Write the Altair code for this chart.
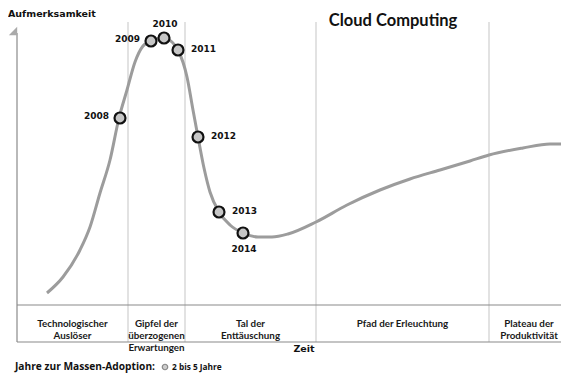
import altair as alt
import pandas as pd

# Hype curve (time -> attention, in picture units)
curve_x = [47, 63, 80, 90, 100, 110, 119, 127, 135, 143, 151, 163, 172, 178, 187, 193, 198,
           204, 210, 219, 230, 243, 258, 272, 288, 316, 347, 380, 410, 440, 470, 489, 523, 550, 575]
curve_y = [293, 277, 250, 227, 193, 160, 118, 90, 62, 46, 41, 38, 42, 50, 77, 110, 137,
           168, 192, 212, 225, 233, 237, 237, 234, 222, 205, 190, 179, 170, 161, 155, 148, 144, 144]

years = ["2008", "2009", "2010", "2011", "2012", "2013", "2014"]
year_x = [120, 151, 164, 178, 198, 219, 243]
year_y = [118, 41, 38, 50, 137, 212, 233]
year_side = ["left", "left", "top", "right", "right", "right", "bottom"]

phase_bounds = [17, 128, 185, 316, 489, 569]
phases = ["Technologischer\nAuslöser", "Gipfel der\nüberzogenen\nErwartungen",
          "Tal der\nEnttäuschung", "Pfad der Erleuchtung", "Plateau der\nProduktivität"]

title = "Cloud Computing"
y_title = "Aufmerksamkeit"
x_title = "Zeit"
legend_title = "Jahre zur Massen-Adoption:"
legend_item = "2 bis 5 Jahre"

W, H = 553, 365
xs = alt.Scale(domain=[8, 561], nice=False, zero=False)
ys = alt.Scale(domain=[8, 373], reverse=True, nice=False, zero=False)

curve = pd.DataFrame({"zeit": curve_x, "aufm": curve_y, "o": range(len(curve_x))})
pts = pd.DataFrame({"jahr": years, "zeit": year_x, "aufm": year_y, "side": year_side})
seps = pd.DataFrame({"x": phase_bounds[1:-1], "y1": 22, "y2": 342})
box = pd.DataFrame({"y": [305, 342], "x1": phase_bounds[0], "x2": phase_bounds[-1]})
axis_v = pd.DataFrame({"x": [phase_bounds[0]], "y1": [33], "y2": [342]})
ph = pd.DataFrame({
    "label": phases,
    "xc": [(a + b) / 2 for a, b in zip(phase_bounds[:-1], phase_bounds[1:])],
    "yc": 324,
})

X = lambda f: alt.X(f, type="quantitative", scale=xs, axis=None)
Y = lambda f: alt.Y(f, type="quantitative", scale=ys, axis=None)

sep_layer = alt.Chart(seps).mark_rule(color="#d8d8d8", strokeWidth=1.5).encode(
    x=X("x"), y=Y("y1"), y2="y2")
box_layer = alt.Chart(box).mark_rule(color="#8a8a8a", strokeWidth=1.2, clip=True).encode(
    y=Y("y"), x=X("x1"), x2="x2")
axis_layer = alt.Chart(axis_v).mark_rule(color="#8a8a8a", strokeWidth=1.2).encode(
    x=X("x"), y=Y("y1"), y2="y2")
arrow = alt.Chart(pd.DataFrame({"x": [13], "y": [31]})).mark_point(
    shape="M 1 -1 L -1 1 L 1 1 Z", filled=True, color="#aaaaaa", size=70, opacity=1).encode(
    x=X("x"), y=Y("y"))

line = alt.Chart(curve).mark_line(color="#9c9c9c", strokeWidth=3, interpolate="monotone",
                                  clip=True).encode(
    x=X("zeit"), y=Y("aufm"), order="o:Q")
dots = alt.Chart(pts).mark_point(filled=True, fill="#c6c6c6", stroke="#111111", strokeWidth=2.2,
                                 size=120, opacity=1, fillOpacity=1).encode(
    x=X("zeit"), y=Y("aufm"))

yfont = dict(font="DejaVu Sans", fontWeight="bold", fontSize=9, color="#111111")
offs = {"left": dict(align="right", baseline="middle", dx=-11, dy=-2),
        "right": dict(align="left", baseline="middle", dx=13, dy=-1),
        "top": dict(align="center", baseline="middle", dx=1, dy=-14),
        "bottom": dict(align="center", baseline="middle", dx=1, dy=16)}
year_layers = [
    alt.Chart(pts).transform_filter(alt.datum.side == s).mark_text(**yfont, **o).encode(
        x=X("zeit"), y=Y("aufm"), text="jahr:N")
    for s, o in offs.items()
]

phase_layer = alt.Chart(ph).mark_text(font="Lato", fontWeight="bold", fontSize=9.8, lineBreak="\n",
                                      lineHeight=12, align="center", baseline="middle",
                                      color="#1a1a1a").encode(
    x=X("xc"), y=Y("yc"), text="label:N")

def txt(t, x, y, **kw):
    return alt.Chart(pd.DataFrame({"t": [t]})).mark_text(**kw).encode(
        x=alt.value(x), y=alt.value(y), text="t:N")

title_l = txt(title, 385, 18, font="Lato", fontWeight="bold", fontSize=16.5, color="#111111",
              align="center", baseline="alphabetic")
ytit = txt(y_title, 0, 9, font="DejaVu Sans", fontWeight="bold", fontSize=9.5, color="#111111",
           align="left", baseline="alphabetic")
xtit = txt(x_title, 296, 344, font="DejaVu Sans", fontWeight="bold", fontSize=9.5, color="#111111",
           align="center", baseline="alphabetic")
leg_t = txt(legend_title, 7, 362, font="Open Sans", fontWeight="bold", fontSize=10.2, color="#111111",
            align="left", baseline="alphabetic")
leg_i = txt(legend_item, 164, 362, font="Open Sans", fontWeight="bold", fontSize=8.3, color="#111111",
            align="left", baseline="alphabetic")
leg_dot = alt.Chart(pd.DataFrame({"a": [1]})).mark_point(
    filled=True, fill="#cccccc", stroke="#888888", strokeWidth=1.2, size=30, opacity=1).encode(
    x=alt.value(157), y=alt.value(359))

chart = alt.layer(sep_layer, box_layer, axis_layer, arrow, line, dots, *year_layers,
                  phase_layer, title_l, ytit, xtit, leg_t, leg_i, leg_dot).properties(
    width=W, height=H, autosize=alt.AutoSizeParams(type="none"), padding=0,
    background="white").configure_view(stroke=None)

chart.save("out.html", embed_options={"renderer": "svg", "actions": False})
